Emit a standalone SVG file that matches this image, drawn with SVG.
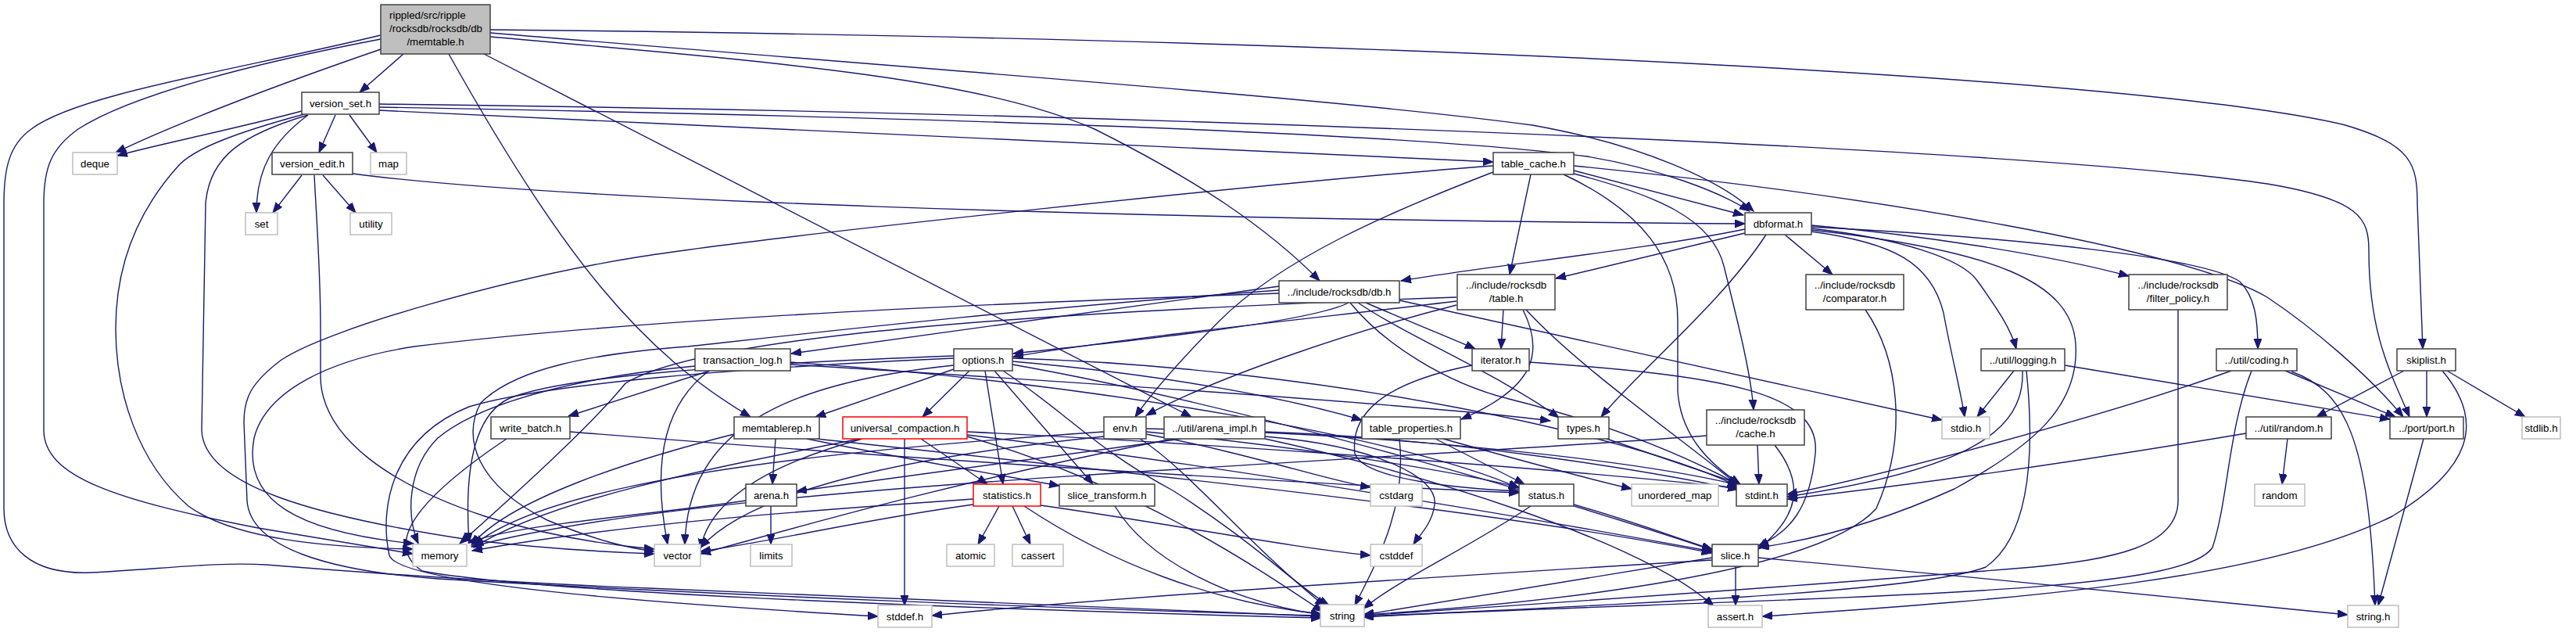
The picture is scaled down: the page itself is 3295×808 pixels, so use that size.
<svg xmlns="http://www.w3.org/2000/svg" width="3295" height="808" viewBox="0 0 3295 808">
<style>
.n rect{fill:#fff;stroke:#404040;stroke-width:1.5}
.g rect{stroke:#bfbfbf}
.r rect{stroke:#ff0000}
.root rect{fill:#bfbfbf}
text{font-family:"Liberation Sans",Arial,sans-serif;font-size:13.3px;fill:#000;text-anchor:middle}
.l{text-anchor:start}
#edges path{fill:none;stroke:#191970;stroke-width:1.4;marker-end:url(#a)}
</style>
<defs>
<marker id="a" markerUnits="userSpaceOnUse" markerWidth="14" markerHeight="12" refX="13" refY="5" orient="auto"><path d="M0,0 L13,5 L0,10 Z" fill="#191970" stroke="#191970" stroke-width="1"/></marker>
</defs>
<rect width="3295" height="808" fill="#fff"/>
<g id="edges">
<path d="M516,69 L460,118"/>
<path d="M487,63 C350,110 220,160 148,195"/>
<path d="M386,142 C300,165 200,185 150,199"/>
<path d="M487,50 C330,80 170,120 100,165 C65,190 56,215 56,260 L56,550 C56,610 150,640 330,675 C420,690 480,700 528,708"/>
<path d="M487,45 C300,90 100,120 40,165 C12,185 5,215 5,260 L5,650 C5,700 40,735 116,732 C200,728 280,718 340,722 C500,735 650,745 830,752 C1200,767 1500,780 1690,788"/>
<path d="M447,147 L482,195"/>
<path d="M429,147 L408,195"/>
<path d="M394,147 C350,180 328,215 328,272"/>
<path d="M386,224 L349,272"/>
<path d="M413,224 L455,272"/>
<path d="M389,146 C300,170 250,190 230,210 C175,270 148,340 148,420 C148,500 175,590 241,647 C300,690 420,700 528,702"/>
<path d="M394,147 C310,172 268,200 263,260 L258,550 C260,620 400,660 600,690 C700,702 780,706 837,708"/>
<path d="M402,224 C406,300 410,350 410,420 L410,483 C412,560 500,620 620,660 C700,685 780,697 837,702"/>
<path d="M451,222 C700,255 1400,280 2232,286"/>
<path d="M627,38 C1800,50 2750,100 3000,160 C3085,185 3092,210 3092,260 L3099,446"/>
<path d="M627,42 C1200,90 1700,125 1960,160 C2100,185 2200,230 2243,270"/>
<path d="M627,47 C1000,80 1250,100 1400,165 C1530,230 1620,290 1688,359"/>
<path d="M485,133 C1500,145 2600,190 2900,235 C3020,255 3030,280 3030,320 C3030,430 3060,480 3082,533"/>
<path d="M485,137 C1200,150 1800,170 2030,200 C2120,215 2200,245 2238,270"/>
<path d="M485,141 C1000,165 1600,195 1910,207"/>
<path d="M574,69 C720,330 820,450 960,533"/>
<path d="M619,69 L1524,533"/>
<path d="M1958,223 L1931,351"/>
<path d="M2013,218 L2230,275"/>
<path d="M2013,222 C2120,250 2190,280 2205,340 C2225,420 2240,480 2243,524"/>
<path d="M2000,223 C2100,270 2146,330 2146,410 L2146,500 C2150,560 2190,595 2226,619"/>
<path d="M2013,212 C2400,250 2800,320 2900,380 C2960,420 3030,480 3074,533"/>
<path d="M1910,220 C1780,270 1640,330 1560,410 C1510,460 1475,500 1452,533"/>
<path d="M1910,212 C1650,231 1000,300 820,328 C650,355 420,420 360,460 C320,490 312,510 312,540 L316,640 C320,700 420,730 560,740 C900,760 1400,780 1690,787"/>
<path d="M2232,293 C2100,320 1900,340 1792,359"/>
<path d="M2232,298 L1990,356"/>
<path d="M2283,300 L2344,351"/>
<path d="M2259,300 C2200,390 2100,470 2048,533"/>
<path d="M2317,288 C2450,300 2620,325 2723,353"/>
<path d="M2317,292 C2430,305 2510,330 2530,360 C2555,395 2572,420 2579,446"/>
<path d="M2317,290 C2600,305 2820,330 2865,360 C2885,380 2888,410 2888,446"/>
<path d="M2317,296 C2420,310 2470,335 2486,400 C2495,450 2508,500 2513,533"/>
<path d="M2317,294 C2550,320 2650,360 2655,440 C2660,520 2600,570 2500,625 C2400,670 2320,690 2250,700"/>
<path d="M1790,384 L2484,537"/>
<path d="M1636,366 L1012,452"/>
<path d="M1725,387 C1680,410 1500,430 1296,452"/>
<path d="M1747,387 C1800,410 1850,430 1887,446"/>
<path d="M1737,387 C1800,430 1920,480 1994,534"/>
<path d="M1727,387 C1770,440 1850,490 1930,510 C2050,540 2150,580 2223,619"/>
<path d="M1636,375 C1200,390 800,410 530,443 C420,460 340,500 325,560 C310,640 380,680 529,695"/>
<path d="M1636,371 C1300,395 1000,430 880,443 C760,452 660,470 615,515 C590,560 610,620 700,665 C760,690 800,700 837,705"/>
<path d="M1923,396 L1920,446"/>
<path d="M1948,396 C1975,450 1965,495 1869,536"/>
<path d="M1952,396 C2020,470 2150,560 2224,621"/>
<path d="M1863,390 C1733,423 1560,480 1466,531"/>
<path d="M1863,385 C1700,405 1450,430 1296,456"/>
<path d="M1863,380 C1300,400 900,430 800,490 C760,540 650,640 588,695"/>
<path d="M908,474 L727,532"/>
<path d="M907,474 C845,520 835,600 854,696"/>
<path d="M1011,463 C1400,490 1800,560 1943,624"/>
<path d="M1011,466 C1400,490 1850,520 1983,538"/>
<path d="M889,468 C760,480 620,510 560,560 C520,600 520,660 535,695"/>
<path d="M1295,462 C1500,480 1650,510 1742,537"/>
<path d="M1295,458 C1700,470 2100,560 2223,622"/>
<path d="M1295,466 C1600,520 2000,640 2190,703"/>
<path d="M1283,474 C1367,530 1400,573 1500,627 C1600,690 1660,750 1700,774"/>
<path d="M1220,458 C950,470 700,490 600,520 C500,560 485,650 498,710 C510,750 900,775 1123,788"/>
<path d="M1220,455 C950,465 720,480 650,510 C600,535 595,620 600,694"/>
<path d="M1220,467 C1000,490 880,550 876,696"/>
<path d="M1220,472 L1043,533"/>
<path d="M1240,474 L1180,533"/>
<path d="M1260,474 L1283,619"/>
<path d="M1272,474 L1398,619"/>
<path d="M1103,561 C960,600 905,650 896,702"/>
<path d="M1178,561 L1263,619"/>
<path d="M1157,561 L1157,774"/>
<path d="M1100,561 C900,600 700,640 606,700"/>
<path d="M1237,558 C1450,620 1600,720 1692,782"/>
<path d="M1237,552 C1600,570 2000,600 2224,624"/>
<path d="M1237,556 C1600,600 2000,670 2190,705"/>
<path d="M1278,647 L1251,696"/>
<path d="M1295,647 L1318,696"/>
<path d="M1310,647 C1420,720 1550,770 1690,785"/>
<path d="M1331,646 C1500,670 1650,700 1753,710"/>
<path d="M1245,638 C1000,655 800,670 604,704"/>
<path d="M1245,645 C1100,665 1000,690 896,705"/>
<path d="M1466,555 C1600,580 1700,615 1753,623"/>
<path d="M1466,552 C1650,570 1850,600 1943,623"/>
<path d="M1466,548 C1800,555 2100,590 2223,620"/>
<path d="M1458,561 C1520,600 1600,700 1695,775"/>
<path d="M1412,552 C1000,580 700,620 606,697"/>
<path d="M1412,558 C1100,590 950,640 896,700"/>
<path d="M1511,561 L1019,628"/>
<path d="M1500,561 C1200,620 1000,680 896,708"/>
<path d="M1618,558 C1760,570 1840,610 1835,645 C1832,670 1815,685 1808,696"/>
<path d="M1618,561 C1800,600 2100,690 2192,775"/>
<path d="M1618,552 C1850,560 2100,600 2223,626"/>
<path d="M992,561 L988,619"/>
<path d="M1032,561 C1150,585 1280,608 1355,621"/>
<path d="M1045,561 C1400,600 1900,650 2190,707"/>
<path d="M939,555 C800,590 650,640 603,697"/>
<path d="M986,647 L986,696"/>
<path d="M954,640 C820,660 660,670 599,694"/>
<path d="M1426,647 C1470,720 1580,770 1690,786"/>
<path d="M729,552 C1200,590 1700,620 1943,630"/>
<path d="M648,561 C560,620 480,690 540,730 C700,760 1300,780 1690,790"/>
<path d="M1956,463 C2200,480 2330,500 2322,580 C2315,650 2290,680 2249,698"/>
<path d="M1883,467 C1767,490 1727,530 1733,580 C1745,615 1880,625 1943,628"/>
<path d="M1836,561 L1950,619"/>
<path d="M1846,561 C1950,590 2030,612 2087,625"/>
<path d="M1790,561 C1800,650 1760,720 1733,774"/>
<path d="M2055,561 L2226,619"/>
<path d="M2248,569 L2250,619"/>
<path d="M2270,569 C2310,620 2300,660 2249,702"/>
<path d="M2183,557 C1600,600 900,620 603,699"/>
<path d="M1958,647 C1880,700 1790,740 1744,778"/>
<path d="M2013,645 C2100,670 2150,690 2190,702"/>
<path d="M2220,724 L2220,774"/>
<path d="M2190,713 C2000,745 1850,770 1744,786"/>
<path d="M2190,716 C1800,740 1400,765 1192,787"/>
<path d="M2249,713 C2500,735 2800,765 3003,786"/>
<path d="M3100,561 L3042,774"/>
<path d="M2931,475 C3000,500 3030,560 3038,774"/>
<path d="M2923,474 L3064,533"/>
<path d="M2854,474 C2700,530 2400,610 2286,632"/>
<path d="M2880,474 C2850,550 2850,640 2830,700 C2790,760 2400,760 1744,788"/>
<path d="M2576,474 L2529,533"/>
<path d="M2587,474 C2590,550 2520,600 2286,635"/>
<path d="M2592,474 C2605,600 2590,690 2540,725 C2450,760 2000,775 1744,789"/>
<path d="M2641,467 L3057,536"/>
<path d="M2926,561 L2919,619"/>
<path d="M2873,554 C2600,600 2400,625 2286,638"/>
<path d="M3075,474 L2963,533"/>
<path d="M3104,474 L3104,533"/>
<path d="M3130,474 L3230,533"/>
<path d="M3124,474 C3180,540 3160,600 3060,660 C2900,740 2600,765 2254,788"/>
<path d="M2786,396 L2786,640 C2786,700 2700,715 2600,725 C2300,750 2000,770 1744,787"/>
<path d="M2386,396 C2430,460 2440,560 2400,650 C2330,730 2000,770 1744,786"/>
</g>
<g id="n_memtable" class="n root"><rect x="487" y="6" width="140" height="63"/><text class="l" x="498" y="24">rippled/src/ripple</text><text class="l" x="498" y="41">/rocksdb/rocksdb/db</text><text x="557" y="58">/memtable.h</text></g>
<g id="n_version_set" class="n"><rect x="386" y="118" width="99" height="28"/><text x="435.5" y="136.5">version_set.h</text></g>
<g id="n_deque" class="n g"><rect x="93" y="195" width="57" height="28"/><text x="121.5" y="213.5">deque</text></g>
<g id="n_version_edit" class="n"><rect x="348" y="195" width="103" height="28"/><text x="399.5" y="213.5">version_edit.h</text></g>
<g id="n_map" class="n g"><rect x="474" y="195" width="46" height="28"/><text x="497" y="213.5">map</text></g>
<g id="n_set" class="n g"><rect x="314" y="272" width="41" height="28"/><text x="334.5" y="290.5">set</text></g>
<g id="n_utility" class="n g"><rect x="448" y="272" width="53" height="28"/><text x="474.5" y="290.5">utility</text></g>
<g id="n_table_cache" class="n"><rect x="1910" y="195" width="103" height="28"/><text x="1961.5" y="213.5">table_cache.h</text></g>
<g id="n_dbformat" class="n"><rect x="2232" y="272" width="85" height="28"/><text x="2274.5" y="290.5">dbformat.h</text></g>
<g id="n_db" class="n"><rect x="1636" y="359" width="154" height="28"/><text x="1713" y="377.5">../include/rocksdb/db.h</text></g>
<g id="n_table" class="n"><rect x="1864" y="351" width="125" height="45"/><text x="1926.5" y="369">../include/rocksdb</text><text x="1926.5" y="386">/table.h</text></g>
<g id="n_comparator" class="n"><rect x="2310" y="351" width="125" height="45"/><text x="2372.5" y="369">../include/rocksdb</text><text x="2372.5" y="386">/comparator.h</text></g>
<g id="n_filter_policy" class="n"><rect x="2723" y="351" width="126" height="45"/><text x="2786" y="369">../include/rocksdb</text><text x="2786" y="386">/filter_policy.h</text></g>
<g id="n_transaction_log" class="n"><rect x="889" y="446" width="122" height="28"/><text x="950" y="464.5">transaction_log.h</text></g>
<g id="n_options" class="n"><rect x="1220" y="446" width="75" height="28"/><text x="1257.5" y="464.5">options.h</text></g>
<g id="n_iterator" class="n"><rect x="1883" y="446" width="73" height="28"/><text x="1919.5" y="464.5">iterator.h</text></g>
<g id="n_logging" class="n"><rect x="2534" y="446" width="107" height="28"/><text x="2587.5" y="464.5">../util/logging.h</text></g>
<g id="n_coding" class="n"><rect x="2835" y="446" width="103" height="28"/><text x="2886.5" y="464.5">../util/coding.h</text></g>
<g id="n_skiplist" class="n"><rect x="3066" y="446" width="75" height="28"/><text x="3103.5" y="464.5">skiplist.h</text></g>
<g id="n_write_batch" class="n"><rect x="628" y="533" width="101" height="28"/><text x="678.5" y="551.5">write_batch.h</text></g>
<g id="n_memtablerep" class="n"><rect x="939" y="533" width="109" height="28"/><text x="993.5" y="551.5">memtablerep.h</text></g>
<g id="n_universal_compaction" class="n r"><rect x="1078" y="533" width="159" height="28"/><text x="1157.5" y="551.5">universal_compaction.h</text></g>
<g id="n_env" class="n"><rect x="1412" y="533" width="54" height="28"/><text x="1439" y="551.5">env.h</text></g>
<g id="n_arena_impl" class="n"><rect x="1489" y="533" width="129" height="28"/><text x="1553.5" y="551.5">../util/arena_impl.h</text></g>
<g id="n_table_properties" class="n"><rect x="1742" y="533" width="126" height="28"/><text x="1805" y="551.5">table_properties.h</text></g>
<g id="n_types" class="n"><rect x="1993" y="533" width="65" height="28"/><text x="2025.5" y="551.5">types.h</text></g>
<g id="n_cache" class="n"><rect x="2183" y="524" width="125" height="45"/><text x="2245.5" y="542">../include/rocksdb</text><text x="2245.5" y="559">/cache.h</text></g>
<g id="n_stdio" class="n g"><rect x="2484" y="533" width="61" height="28"/><text x="2514.5" y="551.5">stdio.h</text></g>
<g id="n_random_h" class="n"><rect x="2873" y="533" width="109" height="28"/><text x="2927.5" y="551.5">../util/random.h</text></g>
<g id="n_port" class="n"><rect x="3057" y="533" width="94" height="28"/><text x="3104" y="551.5">../port/port.h</text></g>
<g id="n_stdlib" class="n g"><rect x="3226" y="533" width="49" height="28"/><text x="3250.5" y="551.5">stdlib.h</text></g>
<g id="n_arena" class="n"><rect x="954" y="619" width="65" height="28"/><text x="986.5" y="637.5">arena.h</text></g>
<g id="n_statistics" class="n r"><rect x="1245" y="619" width="86" height="28"/><text x="1288" y="637.5">statistics.h</text></g>
<g id="n_slice_transform" class="n"><rect x="1355" y="619" width="122" height="28"/><text x="1416" y="637.5">slice_transform.h</text></g>
<g id="n_cstdarg" class="n g"><rect x="1753" y="619" width="66" height="28"/><text x="1786" y="637.5">cstdarg</text></g>
<g id="n_status" class="n"><rect x="1943" y="619" width="70" height="28"/><text x="1978" y="637.5">status.h</text></g>
<g id="n_unordered_map" class="n g"><rect x="2087" y="619" width="111" height="28"/><text x="2142.5" y="637.5">unordered_map</text></g>
<g id="n_stdint" class="n"><rect x="2221" y="619" width="65" height="28"/><text x="2253.5" y="637.5">stdint.h</text></g>
<g id="n_random" class="n g"><rect x="2884" y="619" width="64" height="28"/><text x="2916" y="637.5">random</text></g>
<g id="n_memory" class="n g"><rect x="528" y="696" width="69" height="28"/><text x="562.5" y="714.5">memory</text></g>
<g id="n_vector" class="n g"><rect x="837" y="696" width="59" height="28"/><text x="866.5" y="714.5">vector</text></g>
<g id="n_limits" class="n g"><rect x="960" y="696" width="53" height="28"/><text x="986.5" y="714.5">limits</text></g>
<g id="n_atomic" class="n g"><rect x="1211" y="696" width="61" height="28"/><text x="1241.5" y="714.5">atomic</text></g>
<g id="n_cassert" class="n g"><rect x="1295" y="696" width="65" height="28"/><text x="1327.5" y="714.5">cassert</text></g>
<g id="n_cstddef" class="n g"><rect x="1753" y="696" width="66" height="28"/><text x="1786" y="714.5">cstddef</text></g>
<g id="n_slice" class="n"><rect x="2190" y="696" width="59" height="28"/><text x="2219.5" y="714.5">slice.h</text></g>
<g id="n_stddef" class="n g"><rect x="1123" y="774" width="69" height="28"/><text x="1157.5" y="792.5">stddef.h</text></g>
<g id="n_string" class="n g"><rect x="1689" y="773" width="56" height="28"/><text x="1717" y="791.5">string</text></g>
<g id="n_assert" class="n g"><rect x="2185" y="774" width="69" height="28"/><text x="2219.5" y="792.5">assert.h</text></g>
<g id="n_string_h" class="n g"><rect x="3003" y="774" width="65" height="28"/><text x="3035.5" y="792.5">string.h</text></g>
</svg>
